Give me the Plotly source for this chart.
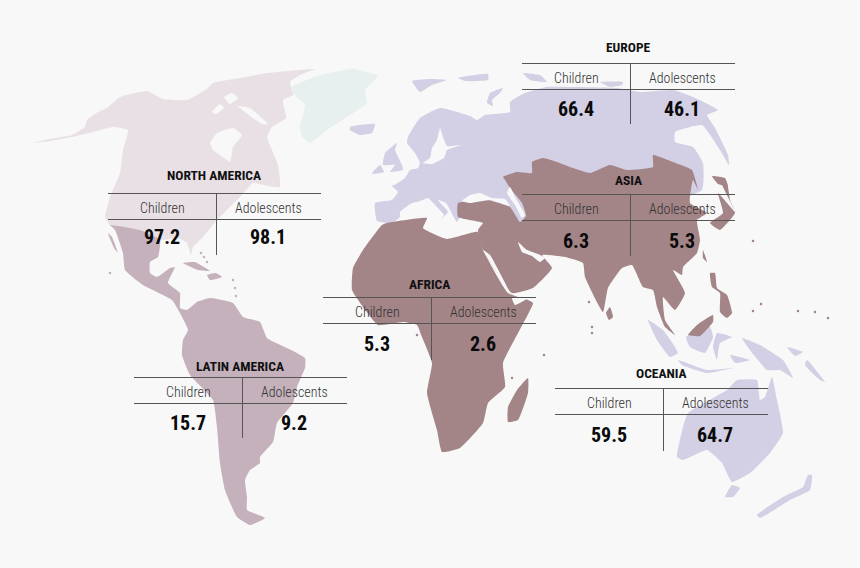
import plotly.graph_objects as go

BACKGROUND = '#f8f8f8'
NORTH_AMERICA_COLOR = '#e8e0e5'
GREENLAND_COLOR = '#e8f0ef'
PURPLE = '#d3cfe4'
LATIN_COLOR = '#c4b1bc'
BROWN = '#a38487'
LINE_COLOR = '#555555'
FONT = 'Roboto Condensed, Roboto, sans-serif'

# outlines (x, y in image pixels)
north_america = [
    (32, 143), (50, 139), (72, 135), (85, 127), (87, 120), (98, 112), (107, 108), (120, 97),
    (147, 91), (163, 99), (187, 100), (197, 95), (208, 88), (213, 83), (240, 78), (267, 73),
    (315, 69), (300, 75), (290, 82), (293, 95), (283, 100), (286, 118), (272, 127), (267, 137),
    (272, 150), (278, 165), (280, 187), (268, 186), (253, 183), (240, 197), (217, 220),
    (203, 237), (193, 247), (191, 255), (187, 243), (178, 238), (160, 240), (140, 230),
    (110, 225), (105, 217), (110, 197), (120, 173), (123, 150), (128, 130), (113, 127),
    (93, 132), (72, 137), (50, 141),
]
greenland = [
    (292, 87), (320, 75), (353, 69), (378, 76), (365, 90), (367, 103), (347, 117), (327, 130),
    (310, 143), (302, 137), (300, 127), (305, 105), (293, 93),
]
latin_main = [
    (110, 225), (140, 230), (160, 240), (158, 257), (150, 262), (150, 273), (157, 277),
    (170, 268), (175, 267), (168, 283), (180, 293), (180, 308), (187, 310), (197, 302),
    (210, 298), (233, 303), (243, 317), (260, 322), (267, 338), (287, 348), (305, 358),
    (305, 368), (297, 387), (293, 403), (277, 423), (273, 442), (260, 457), (260, 463),
    (250, 470), (245, 480), (247, 497), (247, 510), (265, 518), (250, 525), (237, 517),
    (225, 490), (220, 463), (217, 427), (213, 400), (190, 375), (182, 355), (183, 340),
    (188, 330), (180, 313), (172, 300), (143, 285), (125, 270), (123, 253), (115, 230),
]
baja = [(108, 233), (112, 237), (118, 253), (114, 248)]
cuba = [(183, 263), (195, 262), (210, 271), (198, 270)]
hispaniola = [(207, 275), (216, 273), (222, 277), (210, 280)]
europe_main = [
    (375, 203), (377, 221), (392, 223), (400, 217), (400, 212), (412, 203), (420, 201),
    (428, 198), (436, 206), (444, 215), (441, 219), (448, 212), (438, 200), (446, 203),
    (457, 222), (462, 212), (458, 205), (480, 210), (520, 222), (640, 210), (702, 190),
    (703, 163), (693, 147), (675, 142), (675, 132), (702, 125), (720, 150), (729, 165),
    (728, 155), (715, 128), (707, 115), (718, 110), (693, 97), (673, 90), (640, 92),
    (617, 88), (573, 87), (547, 87), (525, 93), (510, 102), (510, 112), (485, 115),
    (477, 120), (470, 116), (440, 108), (420, 118), (408, 137), (407, 143), (415, 153),
    (420, 163), (418, 168), (410, 170), (405, 178), (396, 184), (392, 186), (398, 192),
    (392, 200),
]
svalbard = [(412, 81), (430, 79), (447, 80), (432, 85), (420, 92)]
franz_josef = [(458, 78), (488, 74), (488, 80), (465, 81)]
severnaya = [(523, 73), (540, 75), (547, 82), (530, 80)]
new_siberia = [(600, 82), (623, 82), (622, 85), (610, 87)]
novaya_zemlya = [(487, 103), (490, 93), (503, 88), (500, 93), (492, 100), (493, 106)]
iceland = [(350, 127), (375, 124), (372, 133), (360, 135), (350, 130)]
britain = [(385, 153), (397, 143), (395, 150), (402, 165), (403, 170), (390, 172), (395, 165), (383, 165)]
ireland = [(373, 172), (380, 165), (384, 172), (372, 174)]
borneo_south = [(686, 337), (710, 327), (713, 337), (705, 353), (690, 347)]
sumatra = [(648, 320), (663, 330), (678, 353), (670, 357), (657, 340)]
java = [(678, 360), (707, 370), (733, 368), (707, 373), (682, 365)]
sulawesi = [(713, 347), (717, 333), (732, 337), (720, 343), (717, 360)]
timor = [(730, 355), (750, 360), (735, 363)]
new_guinea = [(742, 338), (760, 345), (783, 360), (793, 378), (780, 370), (767, 370), (750, 350)]
new_britain = [(787, 347), (803, 352), (795, 356)]
solomon = [(807, 360), (825, 382), (820, 380), (805, 365)]
australia = [
    (772, 377), (777, 400), (783, 433), (770, 453), (750, 473), (732, 482), (722, 463),
    (707, 450), (683, 460), (677, 457), (683, 427), (688, 413), (727, 390), (737, 380),
    (757, 380), (760, 400), (765, 397),
]
tasmania = [(725, 497), (732, 485), (740, 488), (733, 497)]
new_zealand = [
    (812, 475), (810, 490), (790, 500), (760, 518), (757, 515), (783, 497), (803, 487), (808, 475),
]
asia_main = [
    (503, 177), (517, 172), (532, 173), (532, 162), (543, 158), (557, 162), (570, 167),
    (590, 173), (610, 165), (627, 170), (653, 167), (653, 155), (673, 162), (692, 170),
    (698, 190), (693, 180), (690, 203), (707, 213), (697, 220), (700, 240), (697, 253),
    (683, 267), (682, 275), (673, 270), (685, 293), (675, 310), (663, 297), (665, 320),
    (675, 335), (665, 327), (657, 307), (653, 290), (643, 287), (632, 265), (622, 268),
    (608, 288), (603, 312), (585, 277), (583, 263), (565, 257), (542, 255), (552, 268),
    (533, 288), (512, 293), (483, 250), (478, 230), (483, 223), (458, 217), (458, 203),
    (487, 200), (510, 207), (520, 222), (526, 216), (522, 203), (510, 188), (505, 180),
]
japan = [
    (735, 212), (723, 187), (720, 180), (727, 183), (730, 200), (735, 213), (720, 230),
    (710, 223), (723, 213), (718, 193),
]
hokkaido = [(712, 176), (725, 178), (728, 186), (718, 184)]
taiwan = [(703, 250), (707, 262), (703, 258)]
philippines = [
    (710, 273), (715, 273), (717, 288), (727, 295), (732, 313), (727, 318), (720, 312),
    (720, 293), (712, 287),
]
borneo_north = [(688, 335), (697, 325), (713, 315), (713, 322), (700, 336)]
sri_lanka = [(610, 307), (613, 317), (609, 320), (606, 313)]
africa_main = [
    (382, 225), (363, 250), (353, 268), (352, 290), (363, 307), (378, 325), (403, 322),
    (417, 325), (422, 337), (432, 363), (427, 393), (437, 430), (442, 452), (460, 448),
    (483, 423), (488, 403), (505, 387), (503, 363), (533, 303), (528, 300), (508, 293),
    (483, 250), (478, 232), (447, 239), (423, 228), (427, 218), (387, 223),
]
madagascar = [(528, 378), (528, 393), (518, 420), (508, 422), (508, 407), (517, 390)]

# water that cuts into the land
hudson_bay = [(210, 143), (217, 133), (233, 128), (242, 135), (233, 147), (230, 162), (223, 157), (213, 150)]
arctic_gap = [(224, 97), (232, 93), (238, 98), (230, 104)]
arctic_notch = [(212, 112), (220, 104), (224, 108), (216, 114)]
hudson_strait = [(238, 106), (250, 108), (268, 124), (262, 124), (250, 116)]
baltic = [
    (440, 128), (437, 140), (432, 148), (430, 158), (423, 163), (432, 164), (444, 158),
    (447, 150), (461, 145), (447, 146), (443, 137),
]
black_sea = [(462, 201), (470, 195), (480, 193), (492, 198), (505, 199), (510, 206), (490, 200), (470, 203)]
caspian = [(510, 187), (515, 197), (525, 215), (522, 218), (515, 205), (507, 193)]
red_sea = [(483, 250), (490, 255), (510, 293), (507, 290), (490, 262)]
persian_gulf = [(518, 242), (527, 250), (538, 254), (545, 258), (540, 262), (532, 256), (522, 252)]
gulf_of_aden = [(512, 298), (528, 298), (515, 305)]

# small islands
brown_dots_x = [753, 753, 761, 798, 815, 828, 589, 592, 592, 544, 512, 417]
brown_dots_y = [241, 311, 304, 311, 312, 318, 302, 327, 333, 355, 378, 335]
latin_dots_x = [110, 233, 235, 236, 201, 204, 207]
latin_dots_y = [273, 280, 288, 296, 253, 257, 262]

# tables
regions = ['EUROPE', 'NORTH AMERICA', 'ASIA', 'AFRICA', 'LATIN AMERICA', 'OCEANIA']
children = ['66.4', '97.2', '6.3', '5.3', '15.7', '59.5']
adolescents = ['46.1', '98.1', '5.3', '2.6', '9.2', '64.7']
table_left = [522, 108, 522, 323, 134, 555]
table_top = [63, 193, 194, 297, 377, 388]
table_bottom = [124, 255, 256, 360, 438, 451]
title_y = [47, 175, 180, 284, 366, 373]
value_y = [109, 237, 241, 344, 423, 435]


def add_land(fig, shapes, color):
    xs = []
    ys = []
    for shape in shapes:
        closed = shape + [shape[0]]
        xs += [p[0] for p in closed] + [None]
        ys += [p[1] for p in closed] + [None]
    fig.add_trace(go.Scatter(
        x=xs, y=ys, mode='lines', fill='toself', fillcolor=color,
        line=dict(width=0, color=color, shape='spline', smoothing=0.4),
        hoverinfo='skip', showlegend=False,
    ))


fig = go.Figure()

add_land(fig, [north_america], NORTH_AMERICA_COLOR)
add_land(fig, [greenland], GREENLAND_COLOR)
add_land(fig, [latin_main, baja, cuba, hispaniola], LATIN_COLOR)
add_land(fig, [
    europe_main, svalbard, franz_josef, severnaya, new_siberia, novaya_zemlya, iceland,
    britain, ireland, borneo_south, sumatra, java, sulawesi, timor, new_guinea, new_britain,
    solomon, australia, tasmania, new_zealand,
], PURPLE)
add_land(fig, [asia_main, japan, hokkaido, taiwan, philippines, borneo_north, sri_lanka], BROWN)
add_land(fig, [africa_main, madagascar], BROWN)
add_land(fig, [
    hudson_bay, arctic_gap, arctic_notch, hudson_strait, baltic, black_sea, caspian, red_sea,
    persian_gulf, gulf_of_aden,
], BACKGROUND)

fig.add_trace(go.Scatter(
    x=brown_dots_x, y=brown_dots_y, mode='markers',
    marker=dict(size=2.5, color=BROWN), hoverinfo='skip', showlegend=False,
))
fig.add_trace(go.Scatter(
    x=latin_dots_x, y=latin_dots_y, mode='markers',
    marker=dict(size=2.5, color=LATIN_COLOR), hoverinfo='skip', showlegend=False,
))

for i, region in enumerate(regions):
    left = table_left[i]
    top = table_top[i] + 0.5
    line = dict(color=LINE_COLOR, width=1)

    fig.add_shape(type='line', x0=left, x1=left + 213, y0=top, y1=top, line=line)
    fig.add_shape(type='line', x0=left, x1=left + 213, y0=top + 26, y1=top + 26, line=line)
    fig.add_shape(type='line', x0=left + 108.5, x1=left + 108.5, y0=top, y1=table_bottom[i], line=line)

    fig.add_annotation(
        x=left + 106, y=title_y[i], text='<b>%s</b>' % region, showarrow=False,
        font=dict(family=FONT, size=13.5, color='#111111'),
    )
    fig.add_annotation(
        x=left + 54, y=top + 14, text='Children', showarrow=False,
        font=dict(family=FONT, size=14, weight=300, color='#333333'),
    )
    fig.add_annotation(
        x=left + 160, y=top + 14, text='Adolescents', showarrow=False,
        font=dict(family=FONT, size=14, weight=300, color='#333333'),
    )
    fig.add_annotation(
        x=left + 54, y=value_y[i], text='<b>%s</b>' % children[i], showarrow=False,
        font=dict(family=FONT, size=20, color='#0a0a0a'),
    )
    fig.add_annotation(
        x=left + 160, y=value_y[i], text='<b>%s</b>' % adolescents[i], showarrow=False,
        font=dict(family=FONT, size=20, color='#0a0a0a'),
    )

fig.update_xaxes(range=[0, 860], visible=False)
fig.update_yaxes(range=[568, 0], visible=False)
fig.update_layout(
    autosize=False,
    width=860,
    height=568,
    margin=dict(l=0, r=0, b=0, t=0, pad=0),
    paper_bgcolor=BACKGROUND,
    plot_bgcolor=BACKGROUND,
    showlegend=False,
)

# the page's default body margin would shift the picture by 8px
fig.write_html(
    "out.html",
    config={'displayModeBar': False},
    post_script="document.body.style.margin='0';",
)
